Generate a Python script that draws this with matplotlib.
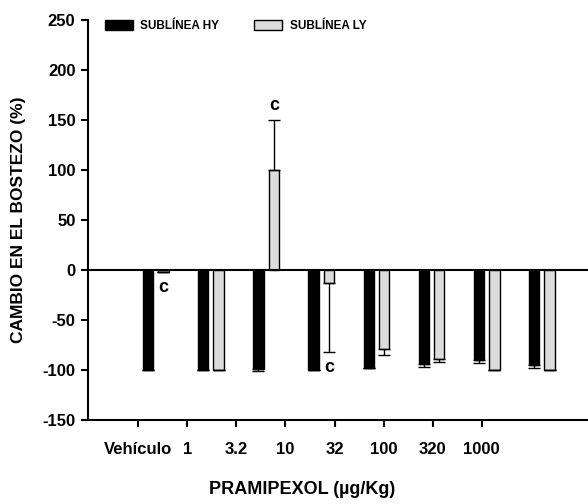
import numpy as np
import matplotlib
matplotlib.use("Agg")
import matplotlib.pyplot as plt
from matplotlib.patches import Patch

plt.rcParams["font.family"] = ["Liberation Sans", "DejaVu Sans"]
plt.rcParams["font.weight"] = "bold"
plt.rcParams["axes.unicode_minus"] = False

DOSES = ["Vehículo", "1", "3.2", "10", "32", "100", "320", "1000"]
HY_MEAN = [-100, -100, -99, -100, -98, -94, -90, -95]
HY_ERR  = [0, 0, 2, 0, 0, 2.5, 3, 3]
LY_MEAN = [-2, -100, 100, -13, -79, -89, -100, -100]
LY_ERR  = [0, 0, 50, 69, 6, 3, 0, 0]
# significance marks: (group index, y position of the letter)
SIG = [(0, -18), (2, 165), (3, -98)]

HY_COLOR = "black"
LY_COLOR = "#dcdcdc"
W = 0.187
OFF = 0.14


def one_sided(means, errs):
    """error bars drawn only away from zero"""
    lower = [e if m < 0 else 0 for m, e in zip(means, errs)]
    upper = [e if m > 0 else 0 for m, e in zip(means, errs)]
    return [lower, upper]


def main():
    fig = plt.figure(figsize=(5.88, 5.04), dpi=100)
    ax = fig.add_axes([88 / 588, 84 / 504, 500 / 588, 400 / 504])
    x = np.arange(len(DOSES))

    ekw = dict(ecolor="black", elinewidth=1, capsize=4, capthick=1)
    ax.bar(x - OFF, HY_MEAN, W, color=HY_COLOR, edgecolor="black", linewidth=1,
           yerr=one_sided(HY_MEAN, HY_ERR), error_kw=ekw)
    ax.bar(x + OFF, LY_MEAN, W, color=LY_COLOR, edgecolor="black", linewidth=1,
           yerr=one_sided(LY_MEAN, LY_ERR), error_kw=ekw)

    for i, yy in SIG:
        ax.text(x[i] + OFF, yy, "c", ha="center", va="center", fontsize=13, fontweight="bold")

    ax.axhline(0, color="black", linewidth=1.5, zorder=3)
    ax.set_xlim(-1.228, 7.836)
    ax.set_ylim(-150, 250)
    ax.set_yticks(np.arange(-150, 251, 50))
    ax.set_xticks([])
    ax.tick_params(axis="y", direction="out", length=5, width=1.5, pad=4, labelsize=12)
    for lab in ax.get_yticklabels():
        lab.set_fontweight("bold")
    ax.spines[["top", "right"]].set_visible(False)
    ax.spines["left"].set_linewidth(1.5)
    ax.spines["bottom"].set_linewidth(1.5)

    # dose labels sit on their own category scale
    ax2 = ax.twiny()
    ax2.xaxis.set_ticks_position("bottom")
    ax2.xaxis.set_label_position("bottom")
    for sp in ax2.spines.values():
        sp.set_visible(False)
    ax2.set_xlim(-1.025, 9.166)
    ax2.set_xticks(x)
    ax2.set_xticklabels(DOSES, fontsize=12, fontweight="bold")
    ax2.tick_params(axis="x", direction="out", length=5, width=1.5, pad=11)

    handles = [Patch(facecolor=HY_COLOR, edgecolor="black", label="SUBLÍNEA HY"),
               Patch(facecolor=LY_COLOR, edgecolor="black", label="SUBLÍNEA LY")]
    ax.legend(handles=handles, loc="upper left", bbox_to_anchor=(17 / 500, 1.001),
              ncol=2, frameon=False, borderaxespad=0, borderpad=0,
              handlelength=2.37, handleheight=0.93, handletextpad=0.6,
              columnspacing=3.0, prop=dict(size=8.5, weight="bold"))

    fig.text(19 / 588, 1 - 220 / 504, "CAMBIO EN EL BOSTEZO (%)", rotation=90,
             ha="center", va="center", fontsize=12.5, fontweight="bold")
    fig.text(302 / 588, 1 - 490 / 504, "PRAMIPEXOL (µg/Kg)",
             ha="center", va="center", fontsize=13, fontweight="bold")

    fig.savefig("out.png", dpi=100, facecolor="white")
    plt.close(fig)


if __name__ == "__main__":
    main()
